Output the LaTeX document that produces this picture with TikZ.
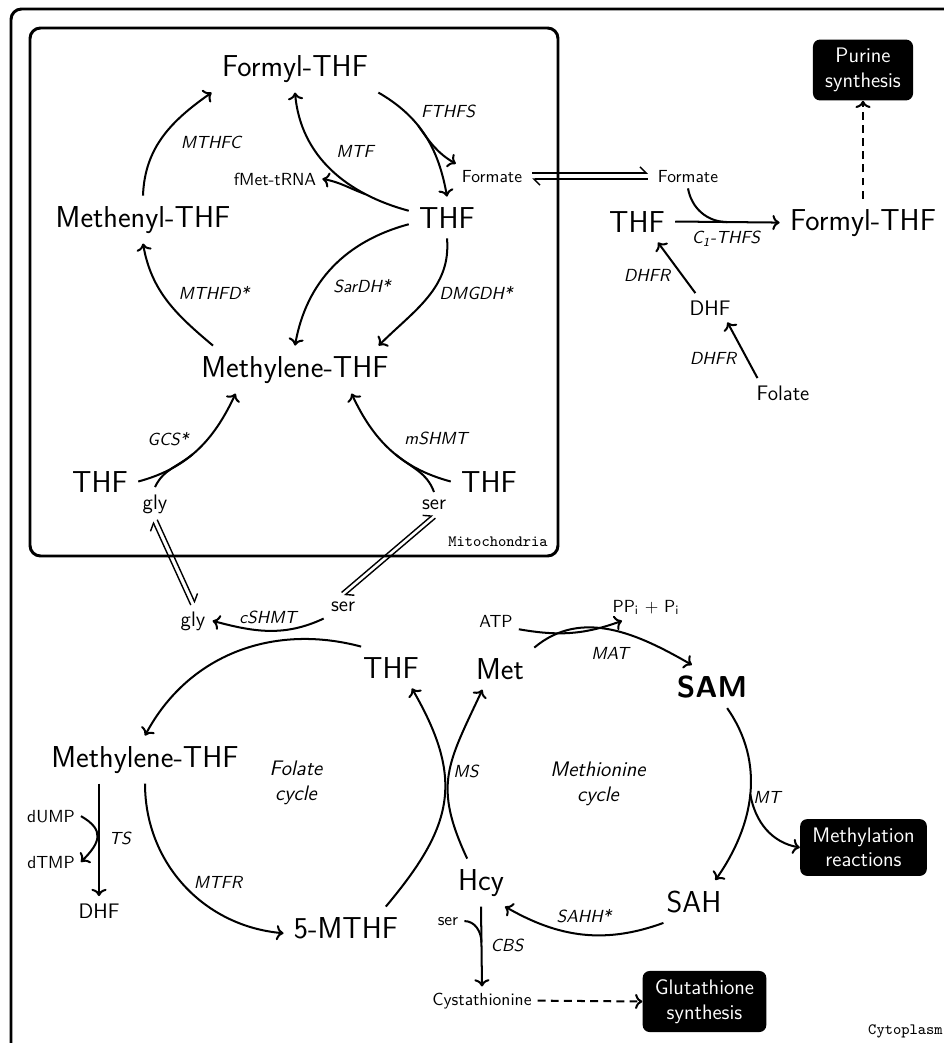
\documentclass[tikz,border=0pt]{standalone}
\usetikzlibrary{arrows.meta,calc}
\renewcommand{\familydefault}{\sfdefault}
\begin{document}
\begin{tikzpicture}[x=0.5714pt,y=-0.5714pt,
  big/.style={font=\LARGE, inner sep=5.76pt, anchor=base},
  bigb/.style={font=\LARGE\bfseries, inner sep=5.76pt, anchor=base},
  med/.style={font=\large, inner sep=4pt, anchor=base},
  sml/.style={font=\normalsize, inner sep=3.33pt, anchor=base},
  enz/.style={font=\normalsize\itshape, inner sep=1pt},
  cyc/.style={font=\large\itshape, align=center, inner sep=1pt},
  blackbox/.style={fill=black, text=white, rounded corners=4pt, font=\large, align=center, inner xsep=7pt, inner ysep=5pt},
  rxn/.style={->, line width=1.15pt},
  ln/.style={line width=1.15pt},
  dsh/.style={->, dash pattern=on 4.5pt off 3pt, line width=1.15pt},
  eq/.style={-{Straight Barb[harpoon,length=3.5pt]}, line width=0.8pt},
  comp/.style={line width=1.7pt, rounded corners=6pt},
  cmp/.style={font=\small\ttfamily, inner sep=0pt, anchor=base east}
]
\useasboundingbox (0,0) rectangle (944,1043);
\clip (0,0) rectangle (944,1043);
\fill[white] (0,0) rectangle (944,1043);
\draw[comp] (11,9) rectangle (965,1065);
\draw[comp] (30,28) rectangle (558,556);
\node[cmp] (mito) at (548,546) {Mitochondria};
\node[cmp] (cyto) at (943,1034) {Cytoplasm};

% ---------- Mitochondria nodes
\node[big] (fTHFm) at (295,76) {Formyl-THF};
\node[big] (meTHF) at (143,227) {Methenyl-THF};
\node[big] (THFm) at (447,228) {THF};
\node[big] (mTHFm) at (295,377) {Methylene-THF};
\node[big] (THFg) at (100,492) {THF};
\node[big] (THFs) at (489,492) {THF};
\node[sml] (fmet) at (275,185) {fMet-tRNA};
\node[sml] (formM) at (492,182) {Formate};
\node[med] (glym) at (155,509) {gly};
\node[med] (serm) at (434,509) {ser};
\node[enz] (lMTHFC) at (211,142) {MTHFC};
\node[enz] (lMTF) at (355,151) {MTF};
\node[enz] (lFTHFS) at (448,111) {FTHFS};
\node[enz] (lSarDH) at (362,286) {SarDH*};
\node[enz] (lDMGDH) at (476,293) {DMGDH*};
\node[enz] (lMTHFD) at (214,293) {MTHFD*};
\node[enz] (lGCS) at (168,439) {GCS*};
\node[enz] (lmSHMT) at (436,438) {mSHMT};

% ---------- Cytoplasm, top right
\node[sml] (formC) at (688,182) {Formate};
\node[big] (THFc) at (637,232) {THF};
\node[big] (fTHFc) at (863,230) {Formyl-THF};
\node[blackbox] (purine) at (863,70) {Purine\\synthesis};
\node[med] (dhfA) at (710,315) {DHF};
\node[med] (folate) at (783,400) {Folate};
\node[enz] (lC1) at (726,239) {C\textsubscript{1}-THFS};
\node[enz] (lDHFRa) at (647,275) {DHFR};
\node[enz] (lDHFRb) at (713,358) {DHFR};

% ---------- Cytoplasm, cycles
\node[med] (glyc) at (193,626) {gly};
\node[med] (serc) at (343,611) {ser};
\node[enz] (lcSHMT) at (268,617) {cSHMT};
\node[big] (THFcy) at (391,678) {THF};
\node[big] (Met) at (500,679) {Met};
\node[sml] (ATP) at (496,627) {ATP};
\node[sml] (ppi) at (646,612) {PP$_{\mathsf{i}}$ $+$ P$_{\mathsf{i}}$};
\node[enz] (lMAT) at (610,653) {MAT};
\node[bigb] (SAM) at (712,697) {SAM};
\node[big] (mTHFc) at (145,767) {Methylene-THF};
\node[cyc] (folcyc) at (296,783) {Folate\\cycle};
\node[enz] (lMS) at (466,771) {MS};
\node[cyc] (metcyc) at (598,784) {Methionine\\cycle};
\node[enz] (lMT) at (767,797) {MT};
\node[blackbox] (meth) at (863.5,847.5) {Methylation\\reactions};
\node[sml] (dUMP) at (51,822) {dUMP};
\node[sml] (dTMP) at (51,868) {dTMP};
\node[enz] (lTS) at (120,838) {TS};
\node[med] (dhfB) at (99,918) {DHF};
\node[enz] (lMTFR) at (218,882) {MTFR};
\node[big] (m5) at (346,938) {5-MTHF};
\node[big] (Hcy) at (481,890) {Hcy};
\node[big] (SAH) at (694,912) {SAH};
\node[enz] (lSAHH) at (584,916) {SAHH*};
\node[sml] (sers) at (448,925) {ser};
\node[enz] (lCBS) at (507,945) {CBS};
\node[sml] (cysta) at (482,1005) {Cystathionine};
\node[blackbox] (gluta) at (704.5,1001.5) {Glutathione\\synthesis};

% ---------- Mitochondria reactions
\draw[rxn] (meTHF.north) to[out=88,in=215] (fTHFm.south west);
\draw[rxn] ($(mTHFm.north west)+(22,0)$) to[out=140,in=-80] (meTHF.south);
\draw[rxn] (fTHFm.south east) to[out=-30,in=100] coordinate[pos=0.4] (fthfsm) (THFm.north);
\draw[rxn] (fthfsm) to[out=-55,in=150] (formM.north west);
\draw[rxn] (THFm.170) to[out=165,in=-85] coordinate[pos=0.25] (mtfm) (fTHFm.south);
\draw[rxn] (mtfm) to[out=160,in=-10] (fmet.east);
\draw[rxn] (THFm.190) to[out=195,in=80] (mTHFm.north);
\draw[rxn] (THFm.south) to[out=-85,in=45] (mTHFm.16);
\draw[rxn] (THFg.east) to[out=15,in=-115] coordinate[pos=0.45] (gcsm) (mTHFm.202);
\draw[ln] (glym.north) to[out=65,in=-140] (gcsm);
\draw[rxn] (THFs.west) to[out=165,in=-65] coordinate[pos=0.45] (mshm) (mTHFm.337);
\draw[ln] (serm.north) to[out=110,in=-40] (mshm);

% ---------- transport
\draw[eq] ($(formM.east)+(4,-3)$) -- ($(formC.west)+(-4,-3)$);
\draw[eq] ($(formC.west)+(-4,3)$) -- ($(formM.east)+(4,3)$);
\draw[eq] ($(glym.south)+(2.2,-1)$) -- ($(glyc.north)+(2.2,-1)$);
\draw[eq] ($(glyc.north)+(-2.2,1)$) -- ($(glym.south)+(-2.2,1)$);
\draw[eq] ($(serm.south)+(1.4,1.6)$) -- ($(serc.north)+(1.4,1.6)$);
\draw[eq] ($(serc.north)+(-1.4,-1.6)$) -- ($(serm.south)+(-1.4,-1.6)$);

% ---------- Cytoplasm top right
\draw[rxn] (THFc.east) -- coordinate[pos=0.5] (c1m) (fTHFc.west);
\draw[ln] (formC.south) to[out=-80,in=180] (c1m);
\draw[rxn] (dhfA.135) -- (THFc.-45);
\draw[rxn] (folate.150) -- (dhfA.-40);
\draw[dsh] (fTHFc.north) -- (purine.south);

% ---------- Cytoplasm cycles
\draw[rxn] (THFcy.145) to[out=165,in=62] (mTHFc.north);
\draw[rxn] (serc.south west) to[out=205,in=-15] (glyc.east);
\draw[rxn] (mTHFc.south) to[out=-90,in=175] (m5.185);
\draw[rxn] (m5.28) to[out=50,in=-60,looseness=1.23] (THFcy.-45);
\draw[rxn] (Hcy.120) to[out=115,in=-115,looseness=1.23] (Met.-130);
\draw[rxn] (Met.north east) to[out=40,in=150] (SAM.133);
\draw[rxn] (ATP.-20) to[out=-10,in=200] ($(ppi.south)+(-24,0)$);
\draw[rxn] (SAM.-55) to[out=-55,in=55] coordinate[pos=0.5] (mtm) (SAH.45);
\draw[rxn] (mtm) to[out=-80,in=170] (meth.west);
\draw[rxn] (SAH.215) to[out=200,in=-30] (Hcy.-45);
\draw[rxn] (Hcy.south) -- coordinate[pos=0.45] (cbsm) (cysta.north);
\draw[ln] (sers.east) to[out=0,in=90] (cbsm);
\draw[dsh] (cysta.east) -- (gluta.west);
\draw[rxn] (mTHFc.south -| dhfB.north) -- (dhfB.north);
\draw[rxn] (dUMP.east) to[out=-30,in=45,looseness=1.55] (dTMP.east);
\end{tikzpicture}
\end{document}
